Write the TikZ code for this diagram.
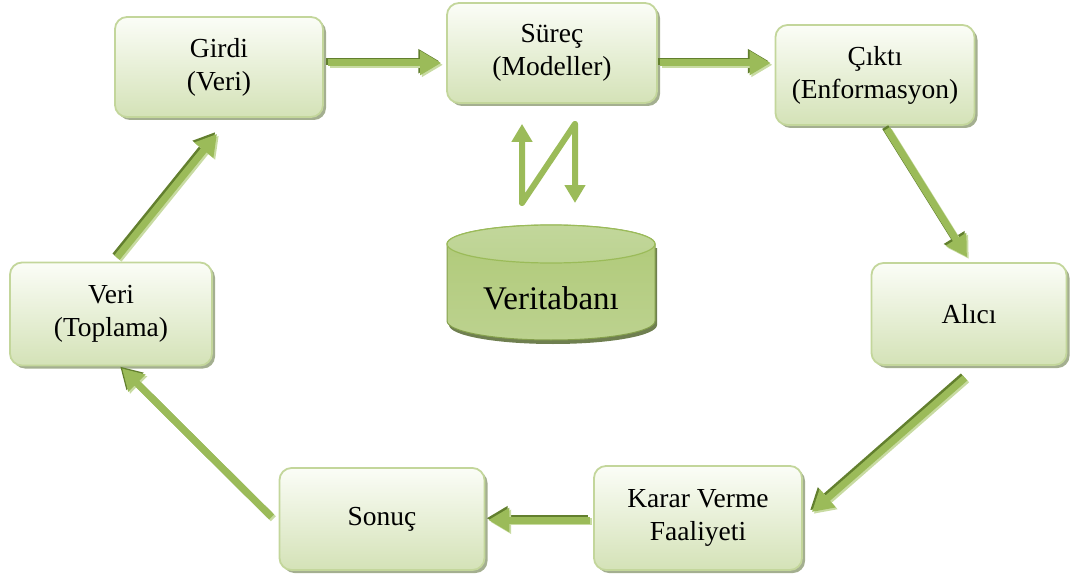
\documentclass[tikz,border=0pt]{standalone}
\usepackage{fontspec}
\setmainfont{Liberation Serif}
\usetikzlibrary{arrows.meta,calc,shadows}
\definecolor{boxborder}{HTML}{C3D69B}
\definecolor{boxtop}{HTML}{FBFDF7}
\definecolor{boxbottom}{HTML}{D4E2B7}
\definecolor{boxshade}{HTML}{A4AF90}
\definecolor{flowgreen}{HTML}{9BBB59}
\definecolor{flowdark}{HTML}{627F2E}
\definecolor{flowlight}{HTML}{C8DBA2}
\definecolor{dbtop}{HTML}{AFC977}
\definecolor{dbmid}{HTML}{95B551}
\definecolor{dbbottom}{HTML}{BCD28F}
\definecolor{dbcap}{HTML}{C2D79B}
\definecolor{dbshade}{HTML}{6F7F50}
% the seven connectors of the information cycle, drawn in a given style
\newcommand\flowpaths[1]{%
  \draw[#1] ($(girdi.east)+(4,-4)$) -- ($(surec.west)+(-5,10)$);
  \draw[#1] ($(surec.east)+(2,10)$) -- ($(cikti.west)+(-4,-12)$);
  \draw[#1] ($(cikti.south)+(12,3)$) -- ($(alici.north)+(-2,-5)$);
  \draw[#1] ($(alici.south)+(-4,12)$) -- ($(karar.east)+(9,-6)$);
  \draw[#1] ($(karar.west)+(-3,2)$) -- ($(sonuc.east)+(3,1)$);
  \draw[#1] ($(sonuc.west)+(-7,-2)$) -- ($(veri.south)+(11,2)$);
  \draw[#1] ($(veri.north)+(6,-4)$) -- ($(girdi.south)+(-2,16)$);
}
\begin{document}
\begin{tikzpicture}[x=1pt,y=-1pt,
  stage/.style={rectangle, rounded corners=12pt, draw=boxborder, line width=1.8pt,
    top color=boxtop, bottom color=boxbottom, align=center, inner sep=0pt,
    font=\fontsize{27.5}{33}\selectfont,
    drop shadow={shadow xshift=3pt, shadow yshift=-3pt, fill=boxshade, opacity=1}},
  flow/.style={line width=7pt, draw=#1, -{Triangle[width=23pt,length=21pt]}},
  flow/.default=flowgreen,
  exchange/.style={line width=6pt, draw=flowgreen, line join=round,
    {Triangle[width=20pt,length=18pt]}-{Triangle[width=20pt,length=18pt]}},
]
\useasboundingbox (0,0) rectangle (1071,583);

% process stages
\node[stage, minimum width=208pt, minimum height=100pt] (girdi) at (219,67) {Girdi\\(Veri)};
\node[stage, minimum width=210pt, minimum height=100pt] (surec) at (552,53) {Süreç\\(Modeller)};
\node[stage, minimum width=199pt, minimum height=100pt] (cikti) at (875,75) {Çıktı\\(Enformasyon)};
\node[stage, minimum width=195pt, minimum height=102pt] (alici) at (969,314) {Alıcı};
\node[stage, minimum width=202pt, minimum height=103pt] (veri) at (111,314) {Veri\\(Toplama)};
\node[stage, minimum width=205pt, minimum height=102pt] (sonuc) at (382,519) {Sonuç};
\node[stage, minimum width=208pt, minimum height=104pt] (karar) at (698,518) {Karar Verme\\Faaliyeti};

% database cylinder
\fill[dbshade] (449,248) -- (449,325) arc[start angle=180, end angle=0, x radius=104, y radius=19]
  -- (657,248) -- cycle;
\path[draw=flowgreen!85!black, line width=1pt, top color=dbtop, middle color=dbmid, bottom color=dbbottom]
  (447,244) -- (447,321) arc[start angle=180, end angle=0, x radius=104, y radius=19]
  -- (655,244) arc[start angle=360, end angle=180, x radius=104, y radius=19] -- cycle;
\path[draw=flowgreen, line width=1.2pt, top color=dbcap, bottom color=dbcap!85!flowgreen]
  (551,244) ellipse [x radius=104, y radius=19];
\node[font=\fontsize{33}{38}\selectfont, inner sep=0pt] (db) at (551,298) {Veritabanı};
\coordinate (dbtop) at (551,225);

% exchange between the models and the database
\draw[exchange] ($(surec.south)+(-30,20)$) -- ($(dbtop)+(-29,-22)$)
  -- ($(surec.south)+(23,20)$) -- ($(dbtop)+(24,-22)$);

% cycle of information flow: bevelled arrows (dark edge, light edge, face)
\begin{scope}[transform canvas={xshift=-1.8pt,yshift=1.8pt}]
  \flowpaths{flow=flowdark}
\end{scope}
\begin{scope}[transform canvas={xshift=1.8pt,yshift=-1.8pt}]
  \flowpaths{flow=flowlight}
\end{scope}
\flowpaths{flow}
\end{tikzpicture}
\end{document}
